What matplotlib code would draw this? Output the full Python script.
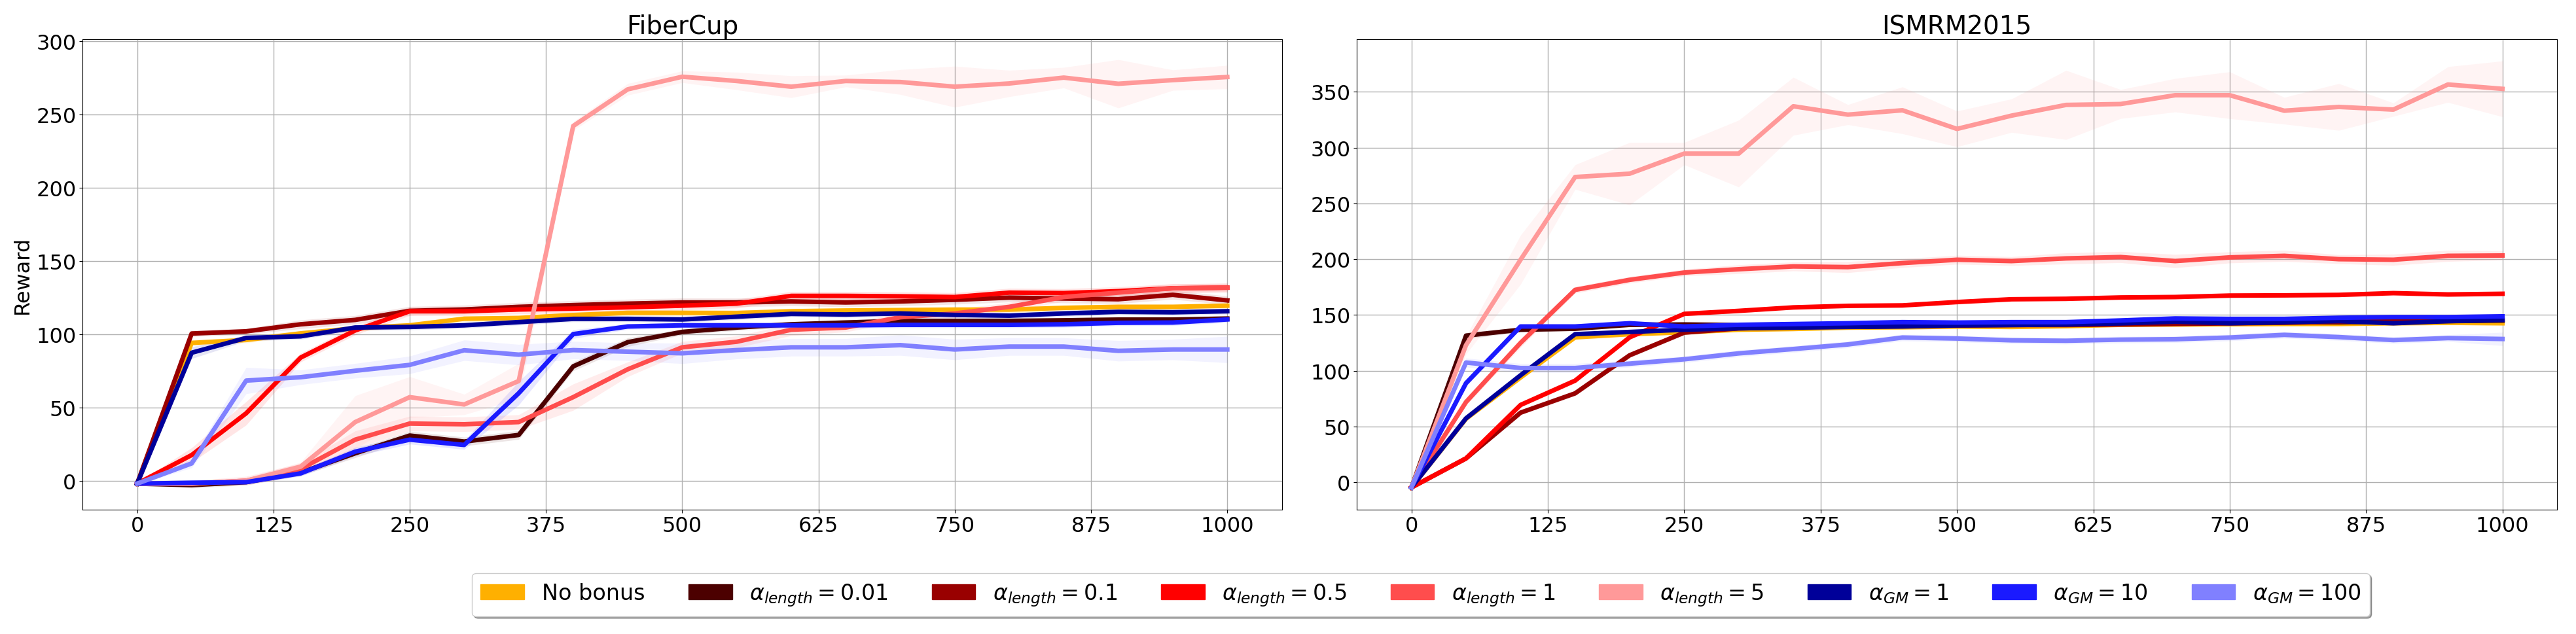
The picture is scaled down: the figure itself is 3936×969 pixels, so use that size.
import matplotlib
matplotlib.use("Agg")
import matplotlib.pyplot as plt
import matplotlib.patches as mpatches
import numpy as np

# ---------------- data ----------------
steps = [0, 50, 100, 150, 200, 250, 300, 350, 400, 450, 500,
         550, 600, 650, 700, 750, 800, 850, 900, 950, 1000]

labels = ["No bonus",
          r"$\alpha_{length} = 0.01$", r"$\alpha_{length} = 0.1$", r"$\alpha_{length} = 0.5$",
          r"$\alpha_{length} = 1$", r"$\alpha_{length} = 5$",
          r"$\alpha_{GM} = 1$", r"$\alpha_{GM} = 10$", r"$\alpha_{GM} = 100$"]
colors = ["#FFB000", "#4C0000", "#990000", "#FF0000", "#FF4D4D", "#FF9999",
          "#000099", "#1A1AFF", "#8080FF"]

# FiberCup mean rewards
fc_nobonus = [-2, 94, 96, 100.5, 104, 106, 110.5, 111, 113, 114.5, 114.5, 114.4, 115.6, 116.1, 116.4, 116.7, 116.7, 117.9, 118.6, 118.6, 119.4]
fc_len001 = [-2, -3, -1, 5.5, 18.7, 30.8, 26.7, 31.2, 78, 94.5, 101.5, 104.5, 106.7, 107.9, 109, 109, 109, 109.4, 109.9, 109.9, 110.6]
fc_len01 = [-2, 100.4, 101.9, 106.7, 109.7, 115.9, 116.8, 118.6, 119.8, 120.8, 121.6, 121.6, 122.3, 121.6, 122.3, 123.4, 124.9, 124.3, 123.8, 126.8, 123]
fc_len05 = [-2, 17.5, 46, 84, 102.5, 115.6, 115.6, 116.8, 117.4, 118.3, 119.4, 120.8, 126.1, 126.1, 125.8, 125.3, 128.3, 128, 129.3, 131.3, 131.7]
fc_len1 = [-2, -2, 0, 8, 28, 39, 38.5, 40, 57, 76, 91, 94.8, 103, 104.5, 111.5, 114.1, 118.6, 125.3, 128.3, 131.3, 131.7]
fc_len5 = [-2, -2, 0, 9.6, 40, 57, 52, 68, 242, 267, 275.6, 272.7, 268.8, 272.7, 272, 268.8, 271, 275, 270.8, 273.3, 275.4]
fc_gm1 = [-2, 87.3, 97.4, 98.5, 104.5, 104.9, 106, 108.2, 110.4, 110.4, 110, 111.9, 113.8, 113.4, 114.1, 113.1, 112.6, 114.1, 115.2, 114.9, 115.6]
fc_gm10 = [-2, -1.4, -1, 5, 19.8, 28, 24.4, 59.7, 100, 105.2, 106, 106, 106, 106, 106.3, 106.3, 106.3, 106.7, 107.7, 107.9, 110]
fc_gm100 = [-2, 11.8, 68.3, 70.6, 75, 79, 89, 86, 89.1, 88, 86.9, 89.1, 91, 91, 92.5, 89.5, 91.5, 91.5, 88.6, 89.5, 89.5]

# FiberCup spread (std)
fc_nobonus_sd = [0.5, 2, 2, 2, 2, 2, 2, 2, 2, 2, 2, 2, 2, 2, 2, 2, 2, 2, 2, 2, 2]
fc_len001_sd = [0.5, 2, 2, 2, 3, 3, 3, 3, 3, 3, 2, 2, 2, 2, 2, 2, 2, 2, 2, 2, 2]
fc_len01_sd = [0.5, 2, 2, 3, 3, 3, 3, 3, 3, 3, 3, 3, 3, 3, 3, 3, 3, 3, 3, 3, 3]
fc_len05_sd = [0.5, 5, 8, 3, 3, 3, 3, 3, 3, 3, 3, 3, 3, 3, 3, 3, 3, 3, 3, 3, 3]
fc_len1_sd = [0.5, 2, 3, 4, 6, 5, 5, 5, 9, 5, 4, 4, 4, 3, 3, 3, 3, 3, 3, 3, 3]
fc_len5_sd = [0.5, 2, 2, 3, 18, 14, 7, 12, 3, 4, 4, 6, 7.5, 4, 8.5, 14, 9, 7, 16.5, 7, 8]
fc_gm1_sd = [0.5, 4, 2, 2, 2, 2, 2, 2, 2, 2, 2, 2, 2, 2, 2, 2, 2, 2, 2, 2, 2]
fc_gm10_sd = [0.5, 1, 1, 2, 3, 3, 3, 8, 3, 2, 2, 2, 2, 2, 2, 2, 2, 2, 2, 2, 2]
fc_gm100_sd = [0.5, 3, 9, 5, 5, 6, 7, 7, 6, 6, 7, 6, 6, 6, 7, 7, 6, 6, 7, 7, 9]

# ISMRM2015 mean rewards
is_nobonus = [-4.5, 57, 94, 130, 132.8, 134.5, 136.8, 137.5, 138.7, 139, 139.7, 139.3, 140, 141.2, 141.5, 141.8, 142, 142, 142.6, 143, 142.6]
is_len001 = [-4.5, 131.5, 136.8, 137.7, 141.2, 141.5, 141, 141, 141, 141.5, 141.5, 141.5, 142, 142.5, 143, 143, 143.5, 143.5, 144, 144.5, 145]
is_len01 = [-4.5, 21.5, 62.5, 79.8, 113.9, 134.2, 138, 139, 139.5, 140, 140.5, 141, 141, 141.5, 142, 142.5, 143, 144, 145.5, 145, 146]
is_len05 = [-4.5, 21.5, 69.4, 91.2, 130, 151, 153.7, 156.8, 158.2, 158.6, 161.6, 164.1, 164.5, 165.7, 166.1, 167.4, 167.6, 168, 169.6, 168.4, 169]
is_len1 = [-4.5, 72, 125, 172.5, 181.5, 188, 191, 193.5, 192.9, 196.5, 199.5, 198.3, 200.7, 201.9, 198.3, 201.6, 203, 200, 199.5, 203, 203.3]
is_len5 = [-4.5, 123, 199.5, 273.6, 276.6, 294.6, 294.6, 337, 329.5, 333.4, 316.7, 328.6, 338.2, 339, 346.9, 346.9, 333, 336.4, 334, 356.5, 352.6]
is_gm1 = [-4.5, 57.4, 96, 132.8, 134.8, 136.8, 138.1, 138.7, 139.3, 139.7, 140.7, 141, 141.5, 142.5, 144, 142.6, 143.5, 144.5, 142.6, 144.5, 145.5]
is_gm10 = [-4.5, 88.9, 139.7, 139.7, 142.6, 139.7, 141.2, 141.9, 142.6, 143.6, 143.2, 143.6, 143.6, 145.1, 146.9, 146.5, 146.5, 147.5, 148.1, 148.1, 148.8]
is_gm100 = [-4.5, 107.4, 102.5, 102.5, 106.4, 110.3, 115.6, 119.5, 123.6, 129.8, 128.9, 127.3, 126.9, 127.9, 128.3, 129.8, 132.2, 130.2, 127.5, 129.3, 128.5]

# ISMRM2015 spread (std)
is_nobonus_sd = [0.5, 2, 2, 2, 2, 2, 2, 2, 2, 2, 2, 2, 2, 2, 2, 2, 2, 2, 2, 2, 2]
is_len001_sd = [0.5, 3, 2, 2, 2, 2, 2, 2, 2, 2, 2, 2, 2, 2, 2, 2, 2, 2, 2, 2, 2]
is_len01_sd = [0.5, 2, 2, 2, 2, 2, 2, 2, 2, 2, 2, 2, 2, 2, 2, 2, 2, 2, 2, 2, 2]
is_len05_sd = [0.5, 2, 2, 2, 2, 2, 2, 2, 2, 2, 2, 2, 2, 2, 2, 2, 2, 2, 2, 2, 2]
is_len1_sd = [0.5, 3, 4, 3, 3, 3, 4, 4, 5, 4, 4, 4, 5, 5, 6, 5, 5, 4, 5, 5, 4]
is_len5_sd = [0.5, 8, 22, 11, 28, 10, 30, 26, 9, 21, 16, 15, 31, 13, 15, 21, 12, 21, 6, 16, 25]
is_gm1_sd = [0.5, 2, 2, 2, 2, 2, 2, 2, 2, 2, 2, 2, 2, 2, 2, 2, 2, 2, 2, 2, 2]
is_gm10_sd = [0.5, 3, 2, 2, 2, 2, 2, 2, 2, 2, 2, 2, 2, 2, 2, 2, 2, 2, 2, 2, 2]
is_gm100_sd = [0.5, 4, 4, 4, 3, 3, 3, 3, 3, 3, 3, 3, 3, 3, 3, 3, 3, 3, 3, 3, 6]

fc_means = [fc_nobonus, fc_len001, fc_len01, fc_len05, fc_len1, fc_len5, fc_gm1, fc_gm10, fc_gm100]
fc_sds = [fc_nobonus_sd, fc_len001_sd, fc_len01_sd, fc_len05_sd, fc_len1_sd, fc_len5_sd, fc_gm1_sd, fc_gm10_sd, fc_gm100_sd]
is_means = [is_nobonus, is_len001, is_len01, is_len05, is_len1, is_len5, is_gm1, is_gm10, is_gm100]
is_sds = [is_nobonus_sd, is_len001_sd, is_len01_sd, is_len05_sd, is_len1_sd, is_len5_sd, is_gm1_sd, is_gm10_sd, is_gm100_sd]

xticks = [0, 125, 250, 375, 500, 625, 750, 875, 1000]

# ---------------- figure ----------------
W, H = 3937, 970
fig = plt.figure(figsize=(W / 100, H / 100), dpi=100)
ax1 = fig.add_axes([126.3 / W, 1 - 779.6 / H, (1958.5 - 126.3) / W, (779.6 - 60.7) / H])
ax2 = fig.add_axes([2073.3 / W, 1 - 779.6 / H, (3907 - 2073.3) / W, (779.6 - 60.7) / H])

x = np.array(steps)
for ax, means, sds, title, ylim, yt in [
        (ax1, fc_means, fc_sds, "FiberCup", (-19.6, 301.3), np.arange(0, 301, 50)),
        (ax2, is_means, is_sds, "ISMRM2015", (-24.2, 397.2), np.arange(0, 351, 50))]:
    for m, s, c in zip(means, sds, colors):
        m = np.array(m, dtype=float)
        s = np.array(s, dtype=float)
        ax.fill_between(x, m - s, m + s, color=c, alpha=0.1, linewidth=0)
        ax.plot(x, m, color=c, linewidth=5)
    ax.set_xlim(-50, 1050)
    ax.set_ylim(*ylim)
    ax.set_xticks(xticks)
    ax.set_yticks(yt)
    ax.grid(True, color="#b0b0b0", linewidth=1)
    ax.set_axisbelow(True)
    ax.tick_params(labelsize=23)
    ax.set_title(title, fontsize=28)

ax1.set_ylabel("Reward", fontsize=23)

handles = [mpatches.Patch(color=c, label=l) for c, l in zip(colors, labels)]
fig.legend(handles=handles, loc="center", bbox_to_anchor=(2171 / W, 1 - 910 / H),
           ncol=9, shadow=True, fontsize=24)

fig.savefig("out.png", dpi=100)
